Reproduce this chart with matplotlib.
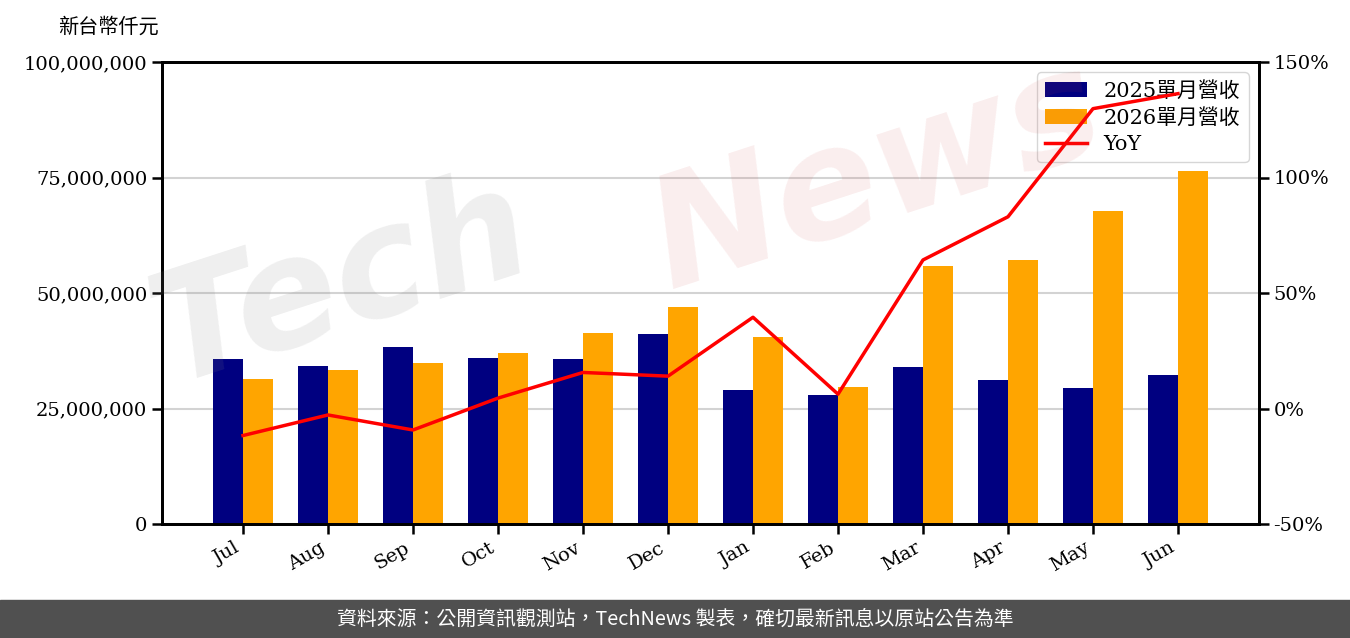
import matplotlib
matplotlib.use("Agg")
import matplotlib.pyplot as plt
import numpy as np
from matplotlib.ticker import FuncFormatter, MultipleLocator
from matplotlib.patches import Rectangle

months = ["Jul", "Aug", "Sep", "Oct", "Nov", "Dec", "Jan", "Feb", "Mar", "Apr", "May", "Jun"]
rev_2025 = [35.7e6, 34.2e6, 38.3e6, 35.9e6, 35.7e6, 41.1e6, 29.0e6, 27.9e6, 34.0e6, 31.2e6, 29.4e6, 32.3e6]
rev_2026 = [31.4e6, 33.3e6, 34.8e6, 37.0e6, 41.3e6, 47.0e6, 40.5e6, 29.7e6, 55.8e6, 57.1e6, 67.7e6, 76.4e6]
yoy = [-11.7, -2.8, -9.3, 4.5, 15.6, 14.0, 39.5, 6.2, 64.3, 83.0, 129.8, 136.3]

label_2025 = "2025單月營收"
label_2026 = "2026單月營收"
label_yoy = "YoY"
unit_label = "新台幣仟元"
footer = "資料來源：公開資訊觀測站，TechNews 製表，確切最新訊息以原站公告為準"

plt.rcParams['font.family'] = ['DejaVu Serif', 'Noto Sans CJK TC']

fig = plt.figure(figsize=(13.5, 6.38), dpi=100)
ax = fig.add_axes([162/1350, 1-524/638, (1259-162)/1350, (524-62)/638])

x = np.arange(len(months))
w = 0.35
ax.bar(x - w/2, rev_2025, w, color='#000080', label=label_2025, zorder=2)
ax.bar(x + w/2, rev_2026, w, color='#FFA500', label=label_2026, zorder=2)
ax.set_ylim(0, 100e6)
ax.set_xlim(-0.953, 11.953)
ax.yaxis.set_major_locator(MultipleLocator(25e6))
ax.yaxis.set_major_formatter(FuncFormatter(lambda v, p: f"{int(v):,}"))
ax.grid(axis='y', color='#d3d3d3', lw=1.5, zorder=0)
ax.set_axisbelow(True)
ax.set_xticks(x)
ax.set_xticklabels(months, rotation=30, ha='right', rotation_mode='default')
ax.tick_params(axis='both', labelsize=14, width=1.8, length=7)
for s in ax.spines.values():
    s.set_linewidth(2)

ax2 = ax.twinx()
line, = ax2.plot(x, yoy, color='red', lw=2.5, label=label_yoy, zorder=3)
ax2.set_ylim(-50, 150)
ax2.yaxis.set_major_locator(MultipleLocator(50))
ax2.yaxis.set_major_formatter(FuncFormatter(lambda v, p: f"{int(v)}%"))
ax2.tick_params(axis='y', labelsize=14, width=1.8, length=7)
for s in ax2.spines.values():
    s.set_linewidth(2)

h1, l1 = ax.get_legend_handles_labels()
ax.legend(h1 + [line], l1 + [label_yoy], loc='upper right', fontsize=15, framealpha=0.8,
          handlelength=2.0, borderaxespad=0.5, labelspacing=0.35)

# watermark
fig.text(0.10, 0.40, "Tech", fontsize=110, color='#808080', alpha=0.13, rotation=18,
         family='DejaVu Sans', style='italic', weight='bold', zorder=10)
fig.text(0.47, 0.55, "News", fontsize=110, color='#d04040', alpha=0.09, rotation=18,
         family='DejaVu Sans', style='italic', weight='bold', zorder=10)

fig.text(58/1350, 1-27/638, unit_label, fontsize=14.5, va='center', ha='left')

fig.patches.append(Rectangle((0, 0), 1, 38/638, transform=fig.transFigure,
                             color='#505050', zorder=0))
fig.text(0.5, 19/638, footer, fontsize=14.3, color='white', ha='center', va='center',
         family=['Noto Sans CJK TC'])

fig.savefig("out.png", dpi=100)
